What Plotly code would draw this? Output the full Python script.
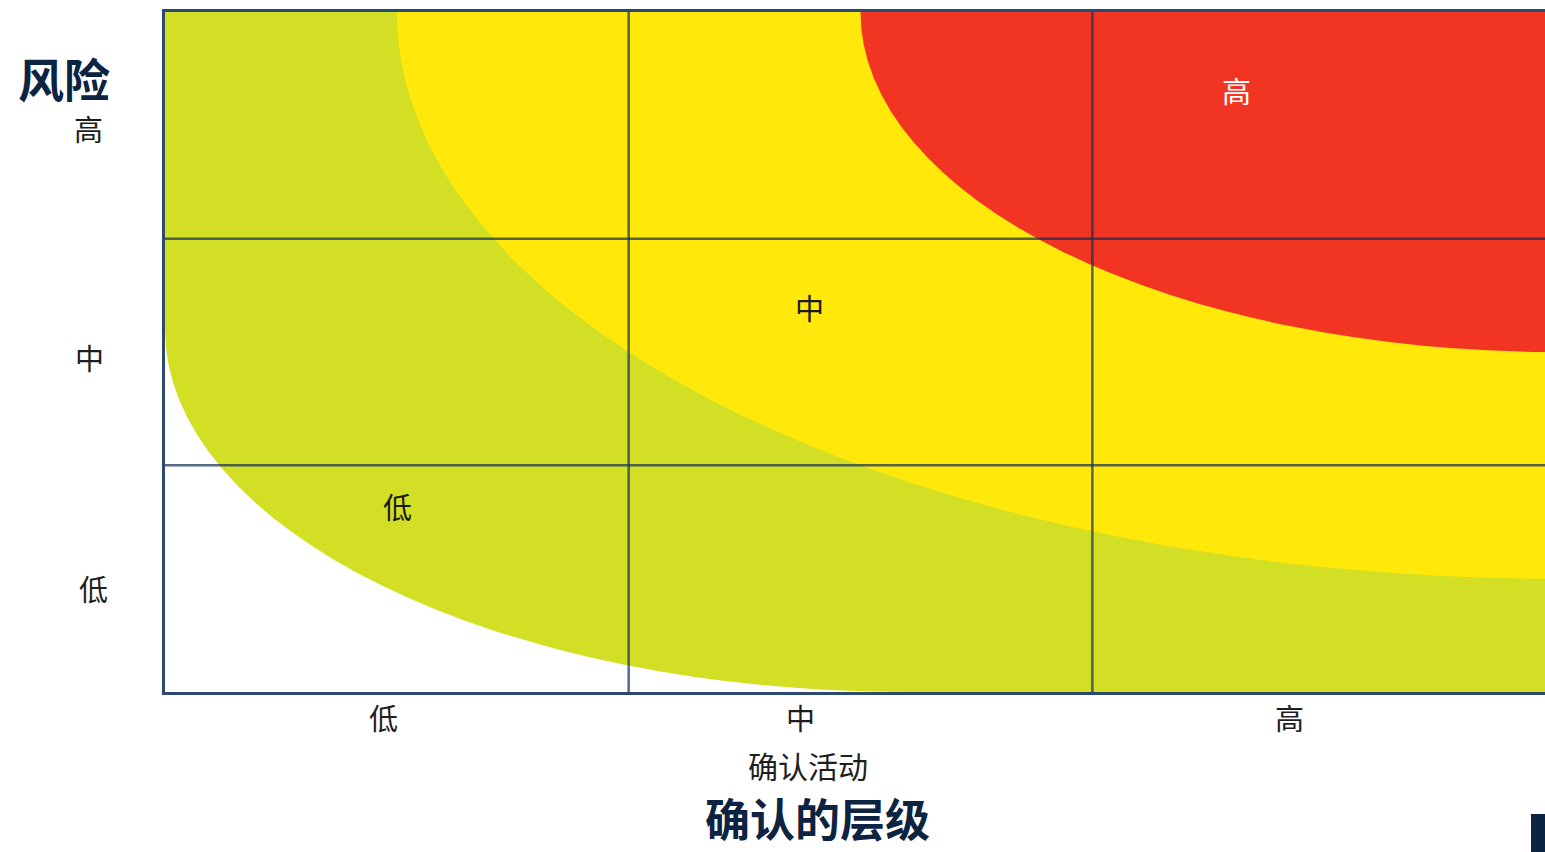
import plotly.graph_objects as go

# Risk zones are arcs in grid units (x: 确认活动 0..3, y: 风险 0..3).
# Low band: green everywhere except the corner outside this arc
low_centre = (1.6, 1.6)
low_radius = 1.6
# Medium / high zones: arcs centred on the top-right corner of the grid
zone_centre = (3.0, 3.0)
medium_radius = 2.5
high_radius = 1.5

levels = ["低", "中", "高"]
x_tick_pos = [0.472, 1.37, 2.426]
y_tick_pos = [0.459, 1.478, 2.488]

zone_labels = ["低", "中", "高"]
zone_x = [0.502, 1.391, 2.31]
zone_y = [0.821, 1.699, 2.656]
zone_colors = ["#1a1a1a", "#1a1a1a", "#ffffff"]

GREEN = "rgb(210,223,36)"
YELLOW = "rgb(255,232,10)"
RED = "rgb(242,52,34)"
GRID = "rgba(22,48,92,0.72)"
NAVY = "#0c2342"
FONT = "Noto Sans CJK SC"

W, H = 1545, 852
L, R, T, B = 165, 0, 12, 160
PW, PH = W - L - R, H - T - B
X_MAX = PW / 463.67


def px(x):
    return (x - L) / PW


def py(y):
    return (H - B - y) / PH


fig = go.Figure()
# invisible anchor so the cartesian axes are built
fig.add_trace(go.Scatter(x=[0, X_MAX], y=[0, 3], mode="markers",
                         marker=dict(opacity=0), hoverinfo="skip", showlegend=False))

shapes = []
lx, ly = low_centre
fill = dict(line=dict(width=0), layer="below")
shapes.append(dict(type="circle", xref="x", yref="y",
                   x0=lx - low_radius, x1=lx + low_radius,
                   y0=ly - low_radius, y1=ly + low_radius, fillcolor=GREEN, **fill))
shapes.append(dict(type="rect", xref="x", yref="y", x0=lx, x1=3.5, y0=-0.5, y1=3.5,
                   fillcolor=GREEN, **fill))
shapes.append(dict(type="rect", xref="x", yref="y", x0=-0.5, x1=3.5, y0=ly, y1=3.5,
                   fillcolor=GREEN, **fill))

cx, cy = zone_centre
for r, col in [(medium_radius, YELLOW), (high_radius, RED)]:
    shapes.append(dict(type="circle", xref="x", yref="y",
                       x0=cx - r, x1=cx + r, y0=cy - r, y1=cy + r,
                       fillcolor=col, **fill))

# inner 3x3 grid lines
for v in (1, 2):
    shapes.append(dict(type="line", xref="x", yref="y", x0=v, x1=v, y0=0, y1=3,
                       line=dict(color=GRID, width=2.5), layer="above"))
    shapes.append(dict(type="line", xref="x", yref="y", x0=0, x1=3.2, y0=v, y1=v,
                       line=dict(color=GRID, width=2.5), layer="above"))

# small navy tab at the lower right
shapes.append(dict(type="rect", xref="paper", yref="paper",
                   x0=px(1531), x1=px(1546), y0=py(852), y1=py(814),
                   fillcolor=NAVY, line=dict(width=0)))

centered = dict(showarrow=False, xanchor="center", yanchor="middle")
ann = []
for t, xv in zip(levels, x_tick_pos):
    ann.append(dict(text=t, xref="x", yref="paper", x=xv, y=py(717),
                    font=dict(family=FONT, size=29, color="#1e1e1e"), **centered))
for t, yv, xx in zip(levels, y_tick_pos, [93, 89, 88]):
    ann.append(dict(text=t, xref="paper", yref="y", x=px(xx), y=yv,
                    font=dict(family=FONT, size=29, color="#1e1e1e"), **centered))
for t, xv, yv, c in zip(zone_labels, zone_x, zone_y, zone_colors):
    ann.append(dict(text=t, xref="x", yref="y", x=xv, y=yv,
                    font=dict(family=FONT, size=29, color=c), **centered))

ann.append(dict(text="确认活动", xref="paper", yref="paper", x=px(808), y=py(765),
                font=dict(family=FONT, size=30, color="#1e1e1e"), **centered))
ann.append(dict(text="<b>确认的层级</b>", xref="paper", yref="paper", x=px(817), y=py(851),
                showarrow=False, xanchor="center", yanchor="bottom", borderpad=0,
                font=dict(family=FONT, size=45, color=NAVY)))
ann.append(dict(text="<b>风险</b>", xref="paper", yref="paper", x=px(64), y=py(77),
                font=dict(family=FONT, size=46, color=NAVY), **centered))

axis_common = dict(showgrid=False, zeroline=False, showticklabels=False, ticks="",
                   showline=True, linecolor="#2c4a6e", linewidth=3, fixedrange=True)

fig.update_layout(
    width=W, height=H,
    margin=dict(l=L, r=R, t=T, b=B, pad=0),
    paper_bgcolor="white", plot_bgcolor="white",
    xaxis=dict(range=[0, X_MAX], mirror=True, **axis_common),
    yaxis=dict(range=[0, 3], mirror=False, **axis_common),
    shapes=shapes, annotations=ann, showlegend=False,
    font=dict(family=FONT),
)

fig.write_html("out.html")
